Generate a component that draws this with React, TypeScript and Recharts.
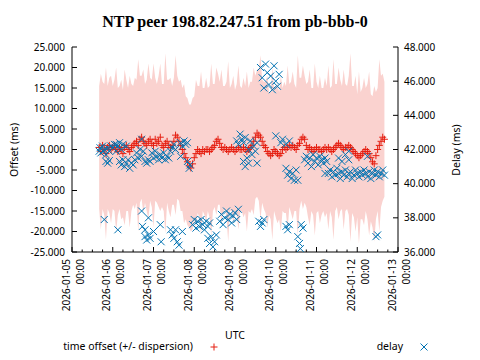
import React from 'react';
import { ComposedChart, Area, Scatter, XAxis, YAxis } from 'recharts';

// hours after 2026-01-05 00:00 UTC
const FIRST_HOUR = 16;

// offset (ms), one sample per hour from FIRST_HOUR
const OFFSET = [
    0.5, -0.5, 1, 0, -1, 0.5, 1, 0,
    0.5, 1, 0, -0.5, 0.5, 0, -1, 0.5, 1, 0, -0.5, 0.5,
    1, 1.5, 2, 1, 2.5, 3, 2, 1.5, 1, 2, 2.5, 1.5,
    1, 2.5, 1.5, 2, 3, 1, 0.5, 1.5, 2, 1, 0.5, 1,
    2, 3.5, 3, 2, 1, 0,
    -1, -2, -3, -4, -4.5, -3.5,
    -2, -1, 0, -0.5, -1, 0, -0.5, 0,
    0, -0.5, 0, 0.5, 1, 2, 2.5, 1.5,
    0.5, 0, 0.5, 0, -0.5, 0, 0.5, 0, -0.5, 0, 0.5, 0,
    0, 0.5, 0, -0.5, 0, 0.5, 1, 2,
    3, 4, 3.5, 3, 2, 1,
    0.5, -0.5, -1, -1.5, -1, 0, -0.5, -1, -1.5, -1, 0, 0.5,
    0, 0.5, 1, 0.5, 1, 0.5, 0, 1, 1.5, 2.5, 3, 2.5,
    1, 0, 0.5, 0, -0.5, 0, 0.5, 0, 0, -0.5, 0, 0.5,
    0, 0.5, 0, -0.5, 0, 0.5, 1, 1.5, 1, 0.5, 0, 0.5,
    0.5, 1, 0.5, 0, -0.5, -1, -1.5, -2, -1.5, -1, -0.5, 0,
    -0.5, -1, -2, -3, -3.5, -1.5, 0, 1, 2, 3, 2.5
];

// dispersion (ms), same samples
const DISPERSION = [
    15, 19, 15.5, 16, 21, 15, 16.5, 18,
    15, 16, 20, 15.5, 15, 17, 15.5, 19, 16, 15, 18.5, 15.5,
    14.5, 16, 15, 21, 15.5, 15, 17.5, 14.5, 16, 19, 15, 15.5,
    20, 15, 14.5, 16, 18, 15, 15.5, 22, 15, 16, 17, 14.5,
    15.5, 19.5, 15, 14.5, 16, 15,
    17, 15, 15.5, 15, 15.5, 16,
    15, 18, 15.5, 16, 20, 15, 15.5, 17.5,
    15, 16, 21, 15.5, 15, 18, 16, 15,
    19, 15.5, 15, 16.5, 22, 15, 15.5, 18, 15, 16, 20, 15.5,
    15, 17, 15.5, 19.5, 15, 16, 15.5, 18,
    15, 15.5, 16, 20, 15, 15.5,
    16, 18.5, 15, 15.5, 21, 15, 16, 17, 15.5, 19, 15, 16,
    15.5, 20, 15, 16, 18, 15.5, 15, 22, 16, 15, 17.5, 15.5,
    15, 16.5, 19, 15, 15.5, 21, 16, 15, 18, 15.5, 15, 17,
    15.5, 20, 15, 16, 22, 15.5, 15, 18.5, 16, 15, 19.5, 15.5,
    15, 17, 23, 15.5, 16, 19, 15, 21, 15.5, 16, 18, 15,
    16.5, 20, 15.5, 16, 19, 15.5, 15, 21, 16, 15.5, 14
];

// [hour, delay ms]
const DELAY: [number, number][] = [
    [16, 41.9], [16.5, 42.1], [17, 41.8], [18, 42.2], [18.5, 41.9], [19, 42.0], [20, 41.7], [21, 42.1], [22, 41.9], [23, 42.2],
    [20, 41.3], [21, 41.2], [22, 41.35],
    [24, 42.1], [25, 42.3], [26, 41.9], [26, 42.3], [27, 42.2], [28, 42.4], [29, 42.0], [30, 42.3], [32, 42.2],
    [28, 41.3], [29, 41.1], [30, 41.4], [31, 41.0], [32, 41.2], [33, 41.4], [34, 40.9], [35, 41.2], [36, 41.1], [37, 41.4],
    [38, 41.8], [39, 41.5], [40, 42.0], [41, 41.6], [42, 41.9], [41, 42.6],
    [43, 41.3], [44, 41.2], [45, 41.4], [46, 41.3],
    [47, 41.8], [48, 41.5], [49, 41.9], [50, 41.6], [51, 41.4], [52, 41.7], [53, 41.5], [54, 41.8], [55, 41.4], [56, 41.6], [57, 41.5], [58, 41.9],
    [19, 37.9], [27, 37.3], [41, 38.4], [41.5, 37.5], [43, 37.3], [45, 38.0], [43, 36.9], [44, 36.7], [45, 37.0], [46, 36.8],
    [48, 37.2], [52, 37.6], [52.5, 36.6], [58, 37.3],
    [59, 42.1], [60, 42.3], [61, 42.0], [64, 42.4], [65, 42.2], [66, 42.5], [67, 42.3], [68, 42.4],
    [64, 41.6], [69, 40.9], [68, 41.3], [69.5, 41.1],
    [97, 42.5], [98, 42.3], [99, 42.9], [100, 42.6], [101, 42.4], [102, 42.7],
    [101, 41.3], [102, 41.0], [103, 41.5], [104, 41.2],
    [59, 37.0], [60, 36.8], [61, 37.3], [62, 36.6], [63, 36.4], [65, 37.2],
    [71, 37.6], [72, 37.9], [73, 37.4], [74, 37.8], [75, 37.5], [76, 37.9], [77, 37.6], [78, 37.3], [79, 37.8], [80, 37.5], [81, 37.7],
    [80, 36.8], [81, 36.5], [82, 36.9], [83, 36.3], [84, 36.6], [85, 37.0],
    [87, 37.8], [88, 38.2], [89, 37.6], [90, 38.0], [91, 38.4], [92, 37.9], [93, 38.2], [94, 37.7], [95, 38.1], [96, 38.3], [97, 37.9], [98, 38.5],
    [111, 46.8], [112, 46.2], [113, 45.6], [114, 47.0], [115, 46.5], [116, 45.8], [117, 46.3], [118, 45.5], [119, 46.9], [120, 46.0], [121, 45.7], [122, 46.4],
    [104, 42.0], [105, 42.5], [106, 41.7], [107, 42.2], [108, 41.9], [109, 42.4], [109, 41.2],
    [120, 42.8], [123, 42.4], [124, 42.6], [126, 42.3], [128, 42.5],
    [126, 40.9], [127, 40.5], [128, 40.7], [129, 40.3], [130, 40.6], [131, 40.2], [132, 40.8], [133, 40.2],
    [137, 41.4], [138, 41.6], [139, 41.2], [140, 41.5], [141, 41.0], [142, 41.7], [143, 41.3], [144, 41.5], [145, 41.1], [146, 41.6],
    [147, 41.4], [148, 41.2], [149, 41.5], [150, 41.3], [149, 40.6],
    [110, 37.8], [111, 37.5], [112, 37.7], [113, 37.9],
    [126, 37.5], [127, 37.3], [128, 37.6], [135, 37.6], [136, 37.4], [133, 36.9], [134, 36.5], [134.5, 36.2],
    [151, 40.6], [152, 40.8], [153, 40.4], [154, 40.7], [155, 40.5], [156, 40.9], [157, 40.6], [158, 40.3], [159, 40.7], [160, 40.5],
    [161, 40.8], [162, 40.4], [163, 40.6], [164, 40.7], [165, 40.3], [166, 40.5], [167, 40.8], [168, 40.6], [169, 40.4], [170, 40.7],
    [171, 40.5], [172, 40.8], [173, 40.6], [174, 40.4], [175, 40.7], [176, 40.3], [177, 40.6], [178, 40.8], [179, 40.5], [180, 40.7],
    [181, 40.4], [182, 40.6], [183, 40.8], [184, 40.5],
    [157, 41.5], [159, 41.3], [161, 41.7], [163, 41.4], [163, 41.9], [174, 41.6],
    [179, 36.9], [180, 37.0]
];

const X_TICKS = [0, 6, 12, 18, 24, 30, 36, 42, 48, 54, 60, 66, 72, 78, 84, 90, 96, 102, 108, 114, 120, 126, 132, 138, 144, 150, 156, 162, 168, 174, 180, 186, 192];
const OFFSET_TICKS = [-25, -20, -15, -10, -5, 0, 5, 10, 15, 20, 25];
const DELAY_TICKS = [36, 38, 40, 42, 44, 46, 48];

const RED = '#e51e10';
const BLUE = '#0072b2';
const FONT = 'Noto Sans';
const FS = 10;
const LABEL_FS = 10.5;

const offsetData = OFFSET.map((o, i) => ({
    h: FIRST_HOUR + i,
    off: o,
    band: [o - DISPERSION[i], o + DISPERSION[i]]
}));
const delayData = DELAY.map(([h, d]) => ({ h, d }));

const Plus = ({ cx, cy }: any) => (
    <path d={`M${cx - 3.5},${cy}H${cx + 3.5}M${cx},${cy - 3.5}V${cy + 3.5}`} stroke={RED} strokeWidth={1} fill="none" />
);
const Cross = ({ cx, cy }: any) => (
    <path d={`M${cx - 3.5},${cy - 3.5}L${cx + 3.5},${cy + 3.5}M${cx - 3.5},${cy + 3.5}L${cx + 3.5},${cy - 3.5}`} stroke={BLUE} strokeWidth={1} fill="none" />
);

const dayLabel = (h: number) => `2026-01-${String(5 + h / 24).padStart(2, '0')}`;

const BottomTick = ({ x, y, payload }: any) => {
    const major = payload.value % 24 === 0;
    return (
        <g>
            <line x1={x} y1={y} x2={x} y2={y - (major ? 5 : 2.5)} stroke="#000" />
            {major && (
                <text transform={`translate(${x},${y + 7}) rotate(-90)`} textAnchor="end" fontFamily={FONT} fontSize={FS} fill="#000">
                    <tspan x={0} dy={-2.5}>{dayLabel(payload.value)}</tspan>
                    <tspan x={0} dy={14}>00:00</tspan>
                </text>
            )}
        </g>
    );
};

const TopTick = ({ x, y, payload }: any) => {
    const major = payload.value % 24 === 0;
    return <line x1={x} y1={y} x2={x} y2={y + (major ? 5 : 2.5)} stroke="#000" />;
};

const LeftTick = ({ x, y, payload }: any) => (
    <g>
        <line x1={x} y1={y} x2={x + 5} y2={y} stroke="#000" />
        <text x={x - 7} y={y} dy="0.35em" textAnchor="end" fontFamily={FONT} fontSize={FS} fill="#000">
            {payload.value.toFixed(3)}
        </text>
    </g>
);

const RightTick = ({ x, y, payload }: any) => (
    <g>
        <line x1={x} y1={y} x2={x - 5} y2={y} stroke="#000" />
        <text x={x + 6} y={y} dy="0.35em" textAnchor="start" fontFamily={FONT} fontSize={FS} fill="#000">
            {payload.value.toFixed(3)}
        </text>
    </g>
);

export default function App() {
    return (
        <div style={{ position: 'absolute', left: 0, top: 0, width: 480, height: 360, background: '#fff' }}>
            <ComposedChart width={480} height={360} data={offsetData} margin={{ top: 47, right: 0, bottom: 0, left: 0 }}>
                <XAxis
                    dataKey="h"
                    type="number"
                    domain={[0, 192]}
                    ticks={X_TICKS}
                    interval={0}
                    height={108}
                    tickSize={0}
                    tickMargin={0}
                    tickLine={false}
                    axisLine={{ stroke: '#000' }}
                    tick={<BottomTick />}
                />
                <XAxis
                    xAxisId="top"
                    orientation="top"
                    dataKey="h"
                    type="number"
                    domain={[0, 192]}
                    ticks={X_TICKS}
                    interval={0}
                    height={0}
                    tickSize={0}
                    tickMargin={0}
                    tickLine={false}
                    axisLine={{ stroke: '#000' }}
                    tick={<TopTick />}
                />
                <YAxis
                    yAxisId="left"
                    type="number"
                    domain={[-25, 25]}
                    ticks={OFFSET_TICKS}
                    interval={0}
                    width={72}
                    tickSize={0}
                    tickMargin={0}
                    tickLine={false}
                    axisLine={{ stroke: '#000' }}
                    tick={<LeftTick />}
                    allowDataOverflow
                />
                <YAxis
                    yAxisId="right"
                    orientation="right"
                    type="number"
                    domain={[36, 48]}
                    ticks={DELAY_TICKS}
                    interval={0}
                    width={82}
                    tickSize={0}
                    tickMargin={0}
                    tickLine={false}
                    axisLine={{ stroke: '#000' }}
                    tick={<RightTick />}
                    allowDataOverflow
                />
                <Area
                    yAxisId="left"
                    dataKey="band"
                    type="linear"
                    stroke="none"
                    fill="#fad2cf"
                    fillOpacity={1}
                    isAnimationActive={false}
                    dot={false}
                    activeDot={false}
                />
                <Scatter yAxisId="left" dataKey="off" data={offsetData} shape={<Plus />} isAnimationActive={false} />
                <Scatter yAxisId="right" dataKey="d" data={delayData} shape={<Cross />} isAnimationActive={false} />

                <text x={235} y={27} textAnchor="middle" fontFamily="Liberation Serif" fontWeight="bold" fontSize={16} fill="#000">
                    NTP peer 198.82.247.51 from pb-bbb-0
                </text>
                <text transform="translate(17.5,150) rotate(-90)" textAnchor="middle" fontFamily={FONT} fontSize={LABEL_FS} fill="#000">
                    Offset (ms)
                </text>
                <text transform="translate(459.5,150) rotate(-90)" textAnchor="middle" fontFamily={FONT} fontSize={LABEL_FS} fill="#000">
                    Delay (ms)
                </text>
                <text x={235} y={339} textAnchor="middle" fontFamily={FONT} fontSize={LABEL_FS} fill="#000">UTC</text>
                <text x={193} y={350} textAnchor="end" fontFamily={FONT} fontSize={LABEL_FS} fill="#000">time offset (+/- dispersion)</text>
                <Plus cx={214} cy={347} />
                <text x={403} y={350} textAnchor="end" fontFamily={FONT} fontSize={LABEL_FS} fill="#000">delay</text>
                <Cross cx={424} cy={347} />
            </ComposedChart>
        </div>
    );
}
